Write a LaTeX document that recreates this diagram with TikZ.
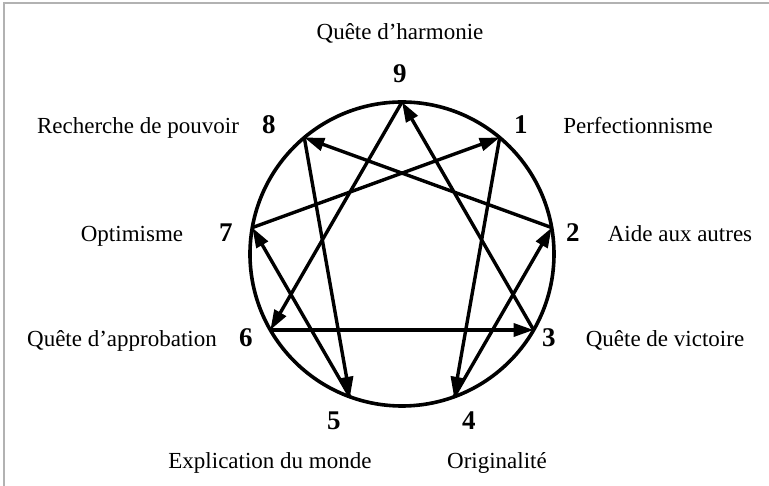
\documentclass[tikz,border=0pt]{standalone}
\usepackage{fontspec}
\setmainfont{Liberation Serif}
\usetikzlibrary{arrows.meta}

\begin{document}
\begin{tikzpicture}[
  x=1pt, y=1pt,
  num/.style={font=\fontsize{27}{27}\selectfont\bfseries, anchor=base, inner sep=0pt},
  lbl/.style={font=\fontsize{23}{27}\selectfont, anchor=base, inner sep=0pt},
  arrow/.style={-{Triangle[length=20pt, width=13pt]}, line width=3.4pt},
]
\useasboundingbox (-402,-232) rectangle (367,254);
% Frame
\draw[gray!60, line width=2pt] (-398,-232) -- (-398,251) -- (367,251);

% Circle
\coordinate (c) at (0,0);
\draw[line width=3.6pt] (c) circle (152);

% Points on the circle
\foreach \n [count=\i from 0] in {9,1,2,3,4,5,6,7,8}
  \coordinate (p\n) at ({90-40*\i}:152);

% Numbers
\node[num] (n9) at (-2,171) {9};
\node[num] (n8) at (-133,120) {8};
\node[num] (n1) at (119,120) {1};
\node[num] (n7) at (-176,12) {7};
\node[num] (n2) at (171,12) {2};
\node[num] (n6) at (-156,-93) {6};
\node[num] (n3) at (147,-93) {3};
\node[num] (n5) at (-68,-176) {5};
\node[num] (n4) at (67,-176) {4};

% Labels
\node[lbl] (t9) at (-2,214) {Quête d’harmonie};
\node[lbl] (t8) at (-264,120) {Recherche de pouvoir};
\node[lbl] (t1) at (236,120) {Perfectionnisme};
\node[lbl] (t7) at (-270,12) {Optimisme};
\node[lbl] (t2) at (278,12) {Aide aux autres};
\node[lbl] (t6) at (-280,-93) {Quête d’approbation};
\node[lbl] (t3) at (263,-93) {Quête de victoire};
\node[lbl] (t5) at (-132,-215) {Explication du monde};
\node[lbl] (t4) at (95,-215) {Originalité};

% Arrows
\draw[arrow] (p1) -- (p4);
\draw[arrow] (p4) -- (p2);
\draw[arrow] (p2) -- (p8);
\draw[arrow] (p8) -- (p5);
\draw[arrow] (p5) -- (p7);
\draw[arrow] (p7) -- (p1);
\draw[arrow] (p9) -- (p6);
\draw[arrow] (p6) -- (p3);
\draw[arrow] (p3) -- (p9);
\end{tikzpicture}
\end{document}
